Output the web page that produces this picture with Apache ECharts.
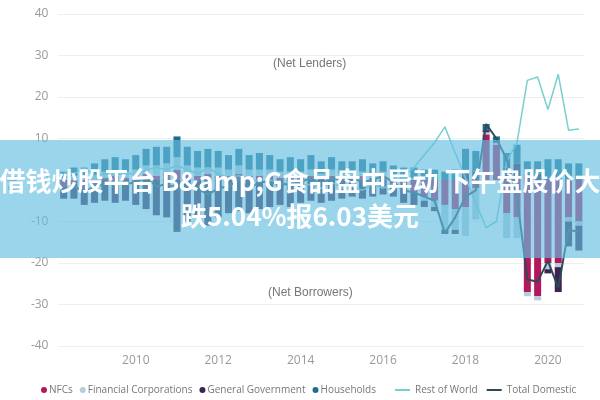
<!DOCTYPE html>
<html>
<head>
<meta charset="utf-8">
<title>Net lending by sector</title>
<script src="https://cdn.jsdelivr.net/npm/echarts@6/dist/echarts.min.js"></script>
<style>
	html, body { margin: 0; padding: 0; background: #fff; }
	#chart { width: 600px; height: 400px; }
</style>
</head>
<body>
<div id="chart"></div>
<script>
"use strict";

// quarters 2008Q2 .. 2020Q4
var quarters = [];
for (var y = 2008; y <= 2020; y++) {
	for (var q = 1; q <= 4; q++) {
		if (y === 2008 && q === 1) continue;
		quarters.push(y + "Q" + q);
	}
}
var yearTicks = ["2010", "2012", "2014", "2016", "2018", "2020"];

// € bn
var nfcs = [-1.5, -1, -2, -1, 0.5, 1, 0.5, 1, 1.5, 1, 2, 2.5, 1.5, 1, 1.5, 1, 1, 1.5, 1, 1, 1, 0.5, 1, 0.5, 1, 0.5, 1, 0.5, 0.5, 1, 0.5, 0.5, -1, -2, -3, -4, -5, -6, -7, -6.5, -2, 11, 8.5, -8, -9, -27, -28, -20, -20, -9, -10];
var finCorps = [0.5, 1, 0.5, 1, 1.5, 1, 1.5, 1.5, 2, 2.5, 2, 3, 2, 2, 1.5, 2, 1.5, 2, 1.5, 1.5, 1.5, 1.5, 1, 1.5, 1.5, 1, 1.5, 1, 1.5, 1, 1, 1.5, 1, 1, 0.5, -1, -1.5, -6, -5, -7, -7.5, 0.5, 0.5, -6, -5, -1, -1, -1.5, -1, -1, -1];
var genGov = [-3, -3.5, -4, -4.5, -5, -5.5, -5, -6, -7, -8.5, -9, -12.5, -10, -9, -11, -9, -8, -7.5, -8, -7, -6.5, -6, -6.5, -5.5, -5, -5.5, -5, -4.5, -4, -4.5, -4, -3.5, -3, -3.5, -3, -1.5, -1, -1, -1, 2.5, 2, 0.5, 0.5, 3, 4, 1.5, 1.5, -1, -6, -6, -6];
var households = [1.5, 2, 2.5, 3, 3, 3.5, 3, 3.5, 4, 4.5, 4, 5, 4.5, 4, 4.5, 4, 3.5, 4, 3.5, 4, 3.5, 3, 3.5, 3, 3.5, 3, 3, 3, 2.5, 3, 2.5, 2.5, 2.5, 2, 2.5, 2.5, 2.5, 2, 2.5, 5, 5, 1.5, 1, 3.5, 4.5, 3, 3, 5, 5, 4, 4];
var restOfWorld = [2, 1.5, 3, 1, 1.5, 1, 2, 1, 2.5, 3, 2.5, 3.5, 2.5, 1.5, 3, 1.5, 0.5, 1, 0.5, -0.5, 0, -1, -0.5, -1.5, -1, -2, -0.5, -2, -1.5, -2.5, -1, -2, -1, 1, 3, 6, 9, 12.8, 6.5, 0.5, -5.5, -11.5, -10, 4.5, 9, 24, 24.8, 17, 25.5, 12, 12.3];
var totalDomestic = [-2.5, -1.5, -3, -1.5, -1, -0.5, -1, -0.5, 0.5, -1.5, -1, -2, -2, -2, -3.5, -2, -1.5, 0, -2, -0.5, -0.5, -1, -1, -0.5, 0.5, -1, 0.5, 0, 0.5, -0.5, 0, 1, -0.5, -2.5, -3, -4, -5, -12.8, -9, -4, -2.5, 13.5, 10, 5, -4, -24, -24.5, -19.5, -26, -12, -12.5];

var sectorNames = ["NFCs", "Financial Corporations", "General Government", "Households"];
var lineNames = ["Rest of World", "Total Domestic"];

var headline = ["借钱炒股平台 B&amp;G食品盘中异动 下午盘股价大", "跌5.04%报6.03美元"];

var chart = echarts.init(document.getElementById("chart"));

function barSeries(name, data, color) {
	return {
		name: name,
		type: "bar",
		stack: "sector",
		barCategoryGap: "32%",
		itemStyle: { color: color },
		data: data
	};
}

function lineSeries(name, data, color, width) {
	return {
		name: name,
		type: "line",
		symbol: "none",
		lineStyle: { color: color, width: width },
		itemStyle: { color: color },
		z: 3,
		data: data
	};
}

var option = {
	animation: false,
	textStyle: { fontFamily: "Open Sans, Noto Sans, sans-serif" },
	grid: { left: 55, right: 16, top: 14, bottom: 54 },
	legend: [
		{
			data: sectorNames.map(function (n) { return { name: n, icon: "circle" }; }),
			left: 36,
			top: 380,
			itemWidth: 6,
			itemHeight: 6,
			itemGap: 7,
			textStyle: { fontSize: 10, color: "#777", padding: [0, 0, 0, -3] }
		},
		{
			data: lineNames,
			left: 390,
			top: 380,
			itemWidth: 15,
			itemHeight: 2,
			itemGap: 9,
			icon: "rect",
			textStyle: { fontSize: 10, color: "#777" }
		}
	],
	xAxis: {
		type: "category",
		data: quarters,
		axisLine: { show: false, onZero: false },
		axisTick: { show: false },
		axisLabel: {
			color: "#999",
			fontSize: 12,
			margin: 9,
			interval: function (idx, val) {
				return yearTicks.indexOf(val.slice(0, 4)) >= 0 && val.slice(4) === "Q1";
			},
			formatter: function (val) { return val.slice(0, 4); }
		}
	},
	yAxis: {
		type: "value",
		min: -40,
		max: 40,
		interval: 10,
		name: "€ bn",
		nameLocation: "middle",
		nameRotate: 90,
		nameGap: 38,
		nameTextStyle: { color: "#999", fontSize: 12 },
		axisLabel: { color: "#999", fontSize: 12, margin: 10 },
		splitLine: { lineStyle: { color: "#eee" } }
	},
	series: [
		barSeries(sectorNames[0], nfcs, "#b3185c"),
		barSeries(sectorNames[1], finCorps, "#b4cedb"),
		barSeries(sectorNames[2], genGov, "#3d2350"),
		barSeries(sectorNames[3], households, "#1d6e8e"),
		lineSeries(lineNames[0], restOfWorld, "#78cfcf", 1.5),
		lineSeries(lineNames[1], totalDomestic, "#2e4a5a", 2)
	],
	graphic: [
		{ type: "text", left: 273, top: 58, style: { text: "(Net Lenders)", fill: "#777", fontSize: 12 } },
		{ type: "text", left: 268, top: 287, style: { text: "(Net Borrowers)", fill: "#777", fontSize: 12 } },
		{
			type: "rect", z: 100,
			shape: { x: 0, y: 140, width: 600, height: 118 },
			style: { fill: "rgba(100,190,225,0.65)" }
		},
		{
			type: "text", z: 101, x: 300, y: 181,
			style: {
				text: headline[0], fill: "#fff", align: "center", verticalAlign: "middle",
				font: "bold 26px 'Noto Sans CJK SC'"
			}
		},
		{
			type: "text", z: 101, x: 300, y: 216,
			style: {
				text: headline[1], fill: "#fff", align: "center", verticalAlign: "middle",
				font: "bold 26px 'Noto Sans CJK SC'"
			}
		}
	]
};

chart.setOption(option);
</script>
</body>
</html>
